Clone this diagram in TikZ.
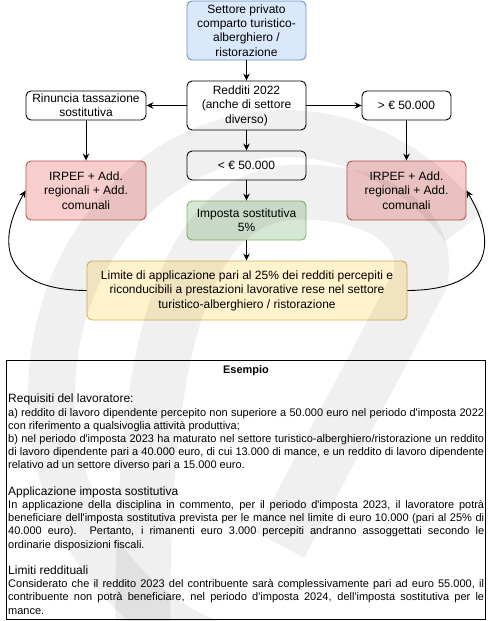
\documentclass[tikz,border=0pt]{standalone}
\usepackage{fontspec}
\setmainfont{Liberation Sans}[Ligatures=TeXOff]
\usetikzlibrary{arrows.meta}
\definecolor{blueF}{HTML}{DAE8FC}\definecolor{blueS}{HTML}{6C8EBF}
\definecolor{redF}{HTML}{F8CECC}\definecolor{redS}{HTML}{B85450}
\definecolor{greenF}{HTML}{D5E8D4}\definecolor{greenS}{HTML}{82B366}
\definecolor{yelF}{HTML}{FFF2CC}\definecolor{yelS}{HTML}{D6B656}
\begin{document}
\begin{tikzpicture}[x=1pt,y=-1pt,
  box/.style={draw, rounded corners=5pt, line width=0.9pt, align=center, inner sep=0pt,
    font=\fontsize{12}{14.4}\selectfont},
  arr/.style={-{Stealth[length=7pt,width=6.5pt]}, line width=0.9pt},
  mark/.style={line width=#1, black, line cap=butt}
]
\useasboundingbox (0,0) rectangle (493,621);
\fill[white] (0,0) rectangle (493,621);

\node[box, fill=blueF, draw=blueS, minimum width=119pt, minimum height=59pt] (top) at (246.5,30.5)
  {Settore privato\\comparto turistico-\\alberghiero /\\ristorazione};
\node[box, fill=white, minimum width=119pt, minimum height=49pt] (red) at (246.5,105.5)
  {Redditi 2022\\(anche di settore\\diverso)};
\node[box, fill=white, minimum width=120pt, minimum height=29pt] (rin) at (86,105.5)
  {Rinuncia tassazione\\sostitutiva};
\node[box, fill=white, minimum width=89pt, minimum height=29pt] (gt) at (406.5,105.5)
  {> € 50.000};
\node[box, fill=white, minimum width=119pt, minimum height=29pt] (lt) at (246.5,165.5)
  {< € 50.000};
\node[box, fill=redF, draw=redS, minimum width=120pt, minimum height=59pt] (irl) at (86,190.5)
  {IRPEF + Add.\\regionali + Add.\\comunali};
\node[box, fill=redF, draw=redS, minimum width=119pt, minimum height=59pt] (irr) at (406.5,190.5)
  {IRPEF + Add.\\regionali + Add.\\comunali};
\node[box, fill=greenF, draw=greenS, minimum width=119pt, minimum height=39pt] (imp) at (246.5,220.5)
  {Imposta sostitutiva\\5\%};
\node[box, fill=yelF, draw=yelS, minimum width=320pt, minimum height=59pt] (lim) at (247,290.5)
  {Limite di applicazione pari al 25\% dei redditi percepiti e\\riconducibili a prestazioni lavorative rese nel settore\\turistico-alberghiero / ristorazione};

\draw[arr] (top) -- (red);
\draw[arr] (red.west) -- (rin.east);
\draw[arr] (red.east) -- (gt.west);
\draw[arr] (red) -- (lt);
\draw[arr] (rin) -- (irl);
\draw[arr] (gt) -- (irr);
\draw[arr] (lt) -- (imp);
\draw[arr] (imp.south) -- (imp.south |- lim.north);
\draw[arr] (lim.west) .. controls (10,290) and (-8,250) .. (irl.west);
\draw[arr] (lim.east) .. controls (484,290) and (502,250) .. (irr.east);

\node[draw, line width=0.9pt, minimum width=479pt, minimum height=259pt, anchor=north west, inner sep=0pt] (ex) at (6,360) {};
\node[font=\bfseries\fontsize{11}{13.2}\selectfont, inner sep=0pt] (ttl) at (246,371) {Esempio};
\node[anchor=north west, inner sep=0pt, text width=476pt, align=justify,
  font=\fontsize{11}{13.2}\selectfont] (body) at (8,394) {%
\setlength\parindent{0pt}\hyphenpenalty=10000 \exhyphenpenalty=10000 \tolerance=9999 \emergencystretch=20pt
{\fontsize{12}{13.2}\selectfont Requisiti del lavoratore:}\par
a) reddito di lavoro dipendente percepito non superiore a 50.000 euro nel periodo d'imposta 2022 con riferimento a qualsivoglia attività produttiva;\par
b) nel periodo d'imposta 2023 ha maturato nel settore turistico-alberghiero/ristorazione un reddito di lavoro dipendente pari a 40.000 euro, di cui 13.000 di mance, e un reddito di lavoro dipendente relativo ad un settore diverso pari a 15.000 euro.\par
\vspace{13.2pt}
{\fontsize{12}{13.2}\selectfont Applicazione imposta sostitutiva}\par
In applicazione della disciplina in commento, per il periodo d'imposta 2023, il lavoratore potrà\linebreak beneficiare dell'imposta sostitutiva prevista per le mance nel limite di euro 10.000 (pari al 25\% di\linebreak 40.000 euro). Pertanto, i rimanenti euro 3.000 percepiti andranno assoggettati secondo le\linebreak ordinarie disposizioni fiscali.\par
\vspace{13.2pt}
{\fontsize{12}{13.2}\selectfont Limiti reddituali}\par
Considerato che il reddito 2023 del contribuente sarà complessivamente pari ad euro 55.000, il\linebreak contribuente non potrà beneficiare, nel periodo d'imposta 2024, dell'imposta sostitutiva per le\linebreak mance.\par};

% watermark
\begin{scope}[opacity=0.06]
\clip (0,0) rectangle (493,621);
\draw[mark=47pt] plot[domain=40:265, samples=80, smooth] ({285+233.5*cos(\x)}, {395-261.5*sin(\x)});
\draw[mark=55pt] (143,640) .. controls (140,330) and (190,192) .. (300,192)
  .. controls (380,192) and (432,228) .. (420,280) -- (280,545);
\end{scope}
\end{tikzpicture}
\end{document}
